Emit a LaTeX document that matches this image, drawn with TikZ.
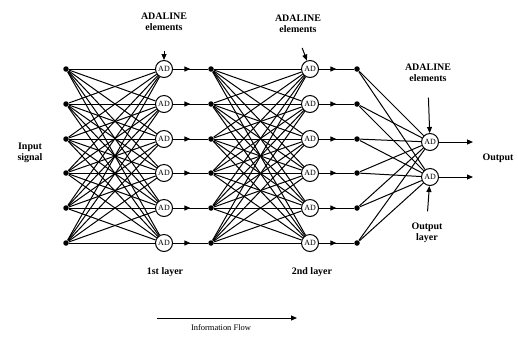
\documentclass[tikz,border=0pt]{standalone}
\usepackage{fontspec}
\setmainfont{Liberation Serif}
\usetikzlibrary{arrows.meta}
\usetikzlibrary{decorations.markings}

\begin{document}
\begin{tikzpicture}[x=1bp, y=-1bp, line width=1pt,
  ad/.style={circle, draw, fill=white, inner sep=0pt, minimum size=17bp, font=\fontsize{8}{8}\selectfont},
  dot/.style={circle, fill, inner sep=0pt, minimum size=5.5bp},
  lbl/.style={font=\fontsize{10}{11}\selectfont\bfseries, align=center},
  tip/.style={-{Triangle[length=6bp, width=5bp]}},
  fwd/.style={postaction={decorate}, decoration={markings,
    mark=at position 0.5 with {\arrow{Triangle[length=6bp, width=5bp]}}}}]
  \useasboundingbox (0,0) rectangle (518,338);

  % units of the three layers
  \foreach \i/\y in {1/69, 2/104, 3/139, 4/173, 5/208, 6/243} {
    \node[dot] (in\i) at (66,\y) {};
    \node[ad] (a\i) at (164,\y) {AD};
    \node[dot] (h\i) at (211,\y) {};
    \node[ad] (b\i) at (310,\y) {AD};
    \node[dot] (k\i) at (357,\y) {};
  }
  \node[ad] (o1) at (430,142) {AD};
  \node[ad] (o2) at (430,177) {AD};

  % weights
  \foreach \i in {1,...,6} {
    \foreach \j in {1,...,6} {
      \draw (in\i) -- (a\j);
      \draw (h\i) -- (b\j);
    }
    \draw[fwd] (a\i) -- (h\i);
    \draw[fwd] (b\i) -- (k\i);
    \draw (k\i) -- (o1);
    \draw (k\i) -- (o2);
  }

  % outputs
  \coordinate (out1) at (473,142);
  \coordinate (out2) at (473,177);
  \draw[tip] (o1) -- (out1);
  \draw[tip] (o2) -- (out2);
  \node[lbl] (outp) at (498,158) {Output};

  % labels
  \node[lbl] (t1) at (164,22) {ADALINE\\elements};
  \node[lbl] (t2) at (298,24) {ADALINE\\elements};
  \node[lbl] (t3) at (428,73) {ADALINE\\elements};
  \node[lbl] (insig) at (30,153) {Input\\signal};
  \node[lbl] (l1) at (165,272) {1st layer};
  \node[lbl] (l2) at (312,272) {2nd layer};
  \node[lbl] (ol) at (427,233) {Output\\layer};
  \draw[tip, shorten <=16bp] (t1.south) -- (a1);
  \draw[tip, shorten <=12bp] (t2.south) -- (b1);
  \draw[tip, shorten <=12bp] (t3.south) -- (o1);
  \draw[tip, shorten <=8bp] (ol.north) -- (o2);

  % flow direction
  \coordinate (fs) at (157,318);
  \coordinate (fe) at (297,318);
  \draw[tip] (fs) -- (fe);
  \node[font=\fontsize{8.5}{9}\selectfont] (flow) at (221,328) {Information Flow};
\end{tikzpicture}
\end{document}
